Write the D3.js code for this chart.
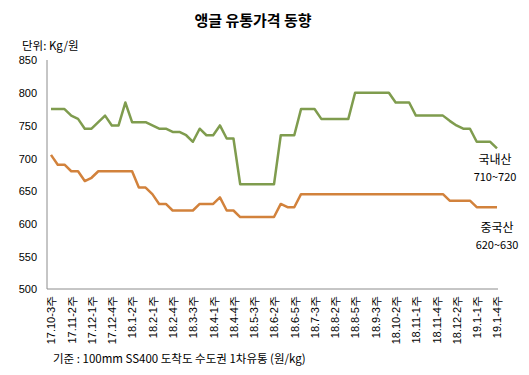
<!DOCTYPE html>
<html>
<head>
<meta charset="utf-8" />
<title>앵글 유통가격 동향</title>
<script src="https://cdnjs.cloudflare.com/ajax/libs/d3/7.8.5/d3.min.js"></script>
<style>
  body { margin: 0; background: #fff; }
  svg { font-family: "Noto Sans CJK KR", "Noto Sans", sans-serif; }
</style>
</head>
<body>
<svg id="chart" width="529" height="375"></svg>
<script>
  // weekly categories (every 3rd one is labelled)
  const weeks = [
    '17.10-3주','17.10-4주','17.11-1주','17.11-2주','17.11-3주','17.11-4주',
    '17.12-1주','17.12-2주','17.12-3주','17.12-4주','17.12-5주',
    '18.1-1주','18.1-2주','18.1-3주','18.1-4주',
    '18.2-1주','18.2-2주','18.2-3주','18.2-4주',
    '18.3-1주','18.3-2주','18.3-3주','18.3-4주','18.3-5주',
    '18.4-1주','18.4-2주','18.4-3주','18.4-4주',
    '18.5-1주','18.5-2주','18.5-3주','18.5-4주',
    '18.6-1주','18.6-2주','18.6-3주','18.6-4주','18.6-5주',
    '18.7-1주','18.7-2주','18.7-3주','18.7-4주',
    '18.8-1주','18.8-2주','18.8-3주','18.8-4주','18.8-5주',
    '18.9-1주','18.9-2주','18.9-3주','18.9-4주',
    '18.10-1주','18.10-2주','18.10-3주','18.10-4주',
    '18.11-1주','18.11-2주','18.11-3주','18.11-4주','18.11-5주',
    '18.12-1주','18.12-2주','18.12-3주','18.12-4주',
    '19.1-1주','19.1-2주','19.1-3주','19.1-4주'
  ]

  const domestic = [
    775, 775, 775, 765, 760, 745, 745, 755, 765, 750, 750, 785, 755, 755,
    755, 750, 745, 745, 740, 740, 735, 725, 745, 735, 735, 750, 730, 730,
    660, 660, 660, 660, 660, 660, 735, 735, 735, 775, 775, 775,
    760, 760, 760, 760, 760, 800, 800, 800, 800, 800, 800,
    785, 785, 785, 765, 765, 765, 765, 765, 757, 750, 745, 745,
    725, 725, 725, 715
  ]

  const chinese = [
    705, 690, 690, 680, 680, 665, 670, 680, 680, 680, 680, 680, 680,
    655, 655, 645, 630, 630, 620, 620, 620, 620, 630, 630, 630, 640,
    620, 620, 610, 610, 610, 610, 610, 610, 630, 625, 625,
    645, 645, 645, 645, 645, 645, 645, 645, 645, 645, 645,
    645, 645, 645, 645, 645, 645, 645, 645, 645, 645, 645,
    635, 635, 635, 635, 625, 625, 625, 625
  ]

  const yTicks = [500, 550, 600, 650, 700, 750, 800, 850]

  const svg = d3.select('#chart')

  let xScale = d3.scalePoint().domain(weeks).range([51, 497])
  let yScale = d3.scaleLinear().domain([500, 850]).range([289, 60])

  // title and notes
  svg.append('text')
    .attr('x', 253).attr('y', 26)
    .attr('text-anchor', 'middle')
    .style('font-size', '15px').style('font-weight', 'bold')
    .text('앵글 유통가격 동향')

  svg.append('text')
    .attr('x', 22).attr('y', 50)
    .style('font-size', '11.5px')
    .text('단위: Kg/원')

  svg.append('text')
    .attr('x', 53).attr('y', 363)
    .style('font-size', '11.5px')
    .text('기준 : 100mm SS400 도착도 수도권 1차유통 (원/kg)')

  // axes
  let yAxis = d3.axisLeft(yScale).tickValues(yTicks).tickSize(0).tickPadding(10)
  svg.append('g').attr('id', 'yAxis')
    .attr('transform', 'translate(47,0)')
    .call(yAxis)

  let xAxis = d3.axisBottom(xScale)
    .tickValues(weeks.filter((w, i) => i % 3 == 0))
    .tickSize(0)
  svg.append('g').attr('id', 'xAxis')
    .attr('transform', 'translate(0,289)')
    .call(xAxis)

  d3.selectAll('#yAxis path.domain, #xAxis path.domain').remove()
  svg.append('line')
    .attr('x1', 47).attr('x2', 47).attr('y1', yScale(850)).attr('y2', yScale(500))
    .style('stroke', '#8c8c8c').style('stroke-width', 1)
  svg.append('line')
    .attr('x1', 47).attr('x2', 498).attr('y1', yScale(500)).attr('y2', yScale(500))
    .style('stroke', '#8c8c8c').style('stroke-width', 1)

  d3.selectAll('#yAxis text')
    .style('font-size', '11px').style('fill', '#000')
    .attr('dy', '0.35em')

  d3.selectAll('#xAxis text')
    .style('font-size', '11px').style('fill', '#000')
    .attr('text-anchor', 'end')
    .attr('transform', 'rotate(-90)')
    .attr('x', -7).attr('y', 0).attr('dy', '0.35em')

  // series lines
  let line = d3.line()
    .x((d, i) => xScale(weeks[i]))
    .y(d => yScale(d))

  svg.append('path').datum(domestic)
    .attr('d', line)
    .style('fill', 'none').style('stroke', '#7f9c4e').style('stroke-width', 2.5)
    .style('stroke-linejoin', 'round')

  svg.append('path').datum(chinese)
    .attr('d', line)
    .style('fill', 'none').style('stroke', '#d2823c').style('stroke-width', 2.5)
    .style('stroke-linejoin', 'round')

  // end labels
  const notes = [
    { text: '국내산', x: 495, y: 164, size: '12px' },
    { text: '710~720', x: 495, y: 181, size: '11px' },
    { text: '중국산', x: 497, y: 232, size: '12px' },
    { text: '620~630', x: 497, y: 249, size: '11px' }
  ]
  svg.selectAll('text.note')
    .data(notes)
    .enter()
    .append('text')
    .attr('class', 'note')
    .attr('x', d => d.x).attr('y', d => d.y)
    .attr('text-anchor', 'middle')
    .style('font-size', d => d.size)
    .text(d => d.text)
</script>
</body>
</html>
